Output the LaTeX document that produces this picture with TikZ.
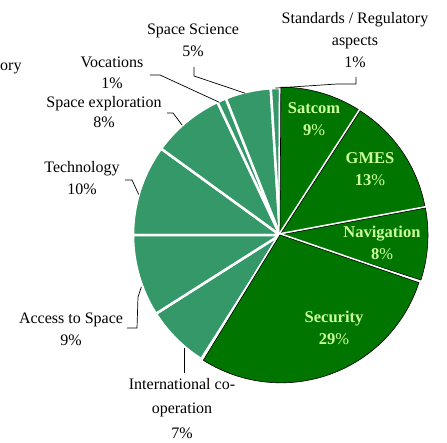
\documentclass[tikz,border=0pt]{standalone}
\usepackage{fontspec}
\setmainfont{Liberation Serif}
\definecolor{seagreen}{RGB}{52,152,104}
\definecolor{leafgreen}{RGB}{0,118,0}
\definecolor{paleleaf}{RGB}{204,255,153}
\begin{document}
\begin{tikzpicture}[x=1pt,y=1pt]
	\tikzstyle{lbl} = [align=center,inner sep=0pt,font=\fontsize{16}{22}\selectfont]
	\tikzstyle{inlbl} = [lbl,text=paleleaf,font=\fontsize{16.5}{22}\selectfont\bfseries]
	\tikzstyle{leader} = [draw=black,line width=0.7pt]
	\tikzstyle{lightslice} = [fill=seagreen,draw=white,line width=2.5pt]
	\tikzstyle{darkslice} = [fill=leafgreen,draw=black,line width=0.6pt,preaction={draw=white,line width=4pt}]
	
	\useasboundingbox (-280,-207) rectangle (167,235);
	\coordinate (c) at (0,0);
	
	% light slices
	\foreach \a/\b in {180/144, 144/115.2, 115.2/111.6, 111.6/93.6, 93.6/90, -122.4/-147.6, -147.6/-180}
		\path[lightslice] (c) -- (\a:147) arc[start angle=\a,end angle=\b,radius=147] -- cycle;
	% dark slices, pulled out a little
	\foreach \a/\b in {90/57.6, 57.6/10.8, 10.8/-18, -18/-122.4}
		\path[darkslice,shift={({(\a+\b)/2}:3)}] (c) -- (\a:145) arc[start angle=\a,end angle=\b,radius=145] -- cycle;
	
	\node[inlbl] (satcom) at (34,116) {Satcom\\9{\mdseries\%}};
	\node[inlbl] (gmes) at (90,66) {GMES\\13{\mdseries\%}};
	\node[inlbl] (nav) at (102,-7.5) {Navigation\\8{\mdseries\%}};
	\node[inlbl] (sec) at (54,-92.5) {Security\\29{\mdseries\%}};
	
	\node[lbl] (std) at (75,195) {Standards / Regulatory\\aspects\\1\%};
	\node[lbl] (sci) at (-87,195) {Space Science\\5\%};
	\node[lbl,font=\fontsize{16}{20.5}\selectfont] (voc) at (-168,162) {Vocations\\1\%};
	\node[lbl,font=\fontsize{16}{20.5}\selectfont] (expl) at (-176,123) {Space exploration\\8\%};
	\node[lbl] (tech) at (-198,56.5) {Technology\\10\%};
	\node[lbl] (acc) at (-209,-94) {Access to Space\\9\%};
	\node[lbl,font=\fontsize{16}{24.5}\selectfont] (intl) at (-98,-173.5) {International co-\\operation\\7\%};
	\node[lbl,anchor=west] (ory) at (-280,167) {ory};
	
	% leader lines
	\coordinate (std-a) at (76,158); \coordinate (std-b) at (76,151); \coordinate (std-c) at (57,151);
	\coordinate (std-tip) at (91.8:147);
	\coordinate (sci-a) at (-86,168); \coordinate (sci-b) at (-86,159);
	\coordinate (sci-tip) at (103.8:146);
	\coordinate (voc-a) at (-130,160); \coordinate (voc-b) at (-120,160);
	\coordinate (voc-tip) at (114.6:146);
	\coordinate (expl-a) at (-113,122); \coordinate (expl-b) at (-107,122);
	\coordinate (expl-tip) at (131.7:147);
	\coordinate (tech-a) at (-155,55); \coordinate (tech-b) at (-148,55);
	\coordinate (tech-tip) at (164:147);
	\coordinate (acc-a) at (-153,-93); \coordinate (acc-b) at (-143,-93); \coordinate (acc-c) at (-142,-62);
	\coordinate (acc-tip) at (-159.5:148);
	\coordinate (intl-a) at (-96,-138);
	\coordinate (intl-tip) at (-96,-113);
	
	\draw[leader] (std-a) -- (std-b) -- (std-c) -- (std-tip);
	\draw[leader] (sci-a) -- (sci-b) -- (sci-tip);
	\draw[leader] (voc-a) -- (voc-b) -- (voc-tip);
	\draw[leader] (expl-a) -- (expl-b) -- (expl-tip);
	\draw[leader] (tech-a) -- (tech-b) -- (tech-tip);
	\draw[leader] (acc-a) -- (acc-b) -- (acc-c) -- (acc-tip);
	\draw[leader] (intl-a) -- (intl-tip);
\end{tikzpicture}
\end{document}
